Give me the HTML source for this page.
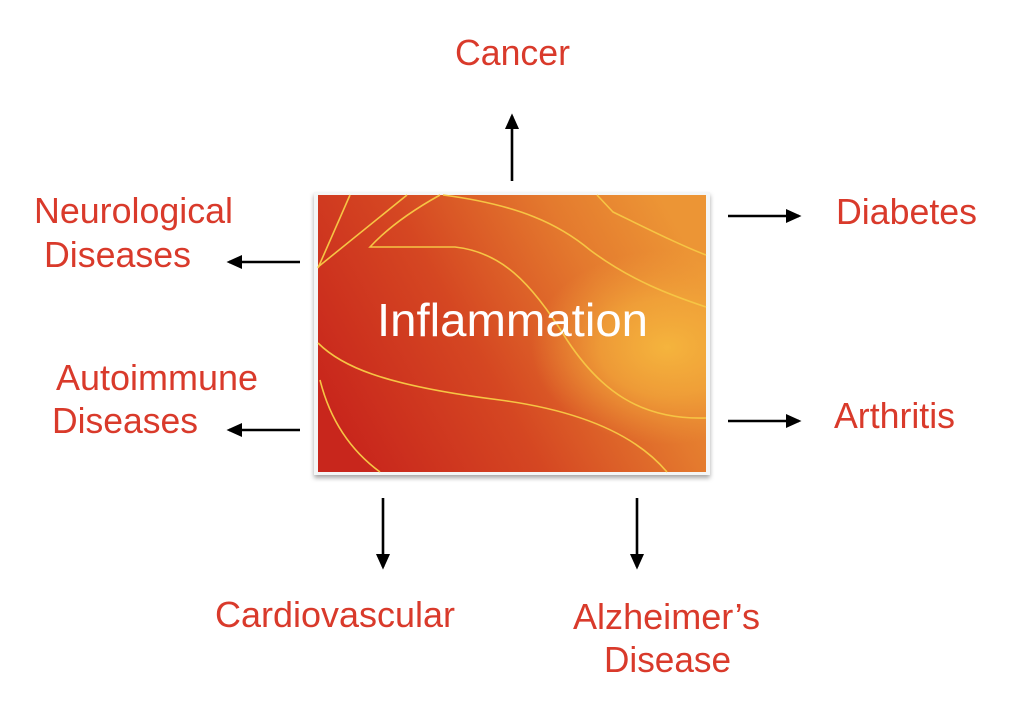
<!DOCTYPE html>
<html><head><meta charset="utf-8"><style>
html,body{margin:0;padding:0;background:#fff;}
svg{display:block;}
text{font-family:"Liberation Sans",Arial,sans-serif;}
.l{fill:#d93a2b;font-size:36px;}
</style></head><body>
<svg width="1024" height="726" viewBox="0 0 1024 726" xmlns="http://www.w3.org/2000/svg">
<defs>
<linearGradient id="g" x1="0" y1="0.7" x2="1" y2="0.3">
<stop offset="0" stop-color="#c8261c"/>
<stop offset="0.4" stop-color="#d54722"/>
<stop offset="0.75" stop-color="#e47a2e"/>
<stop offset="1" stop-color="#ec9535"/>
</linearGradient>
<radialGradient id="y" cx="0.9" cy="0.55" r="0.35">
<stop offset="0" stop-color="#f5b43d" stop-opacity="1"/>
<stop offset="0.5" stop-color="#f3ab3b" stop-opacity="0.7"/>
<stop offset="1" stop-color="#f0a03a" stop-opacity="0"/>
</radialGradient>
<filter id="s" x="-5%" y="-5%" width="110%" height="115%"><feDropShadow dx="0" dy="3" stdDeviation="2.5" flood-color="#000" flood-opacity="0.35"/></filter>
<marker id="a" markerWidth="6" markerHeight="6" refX="5" refY="3" orient="auto" markerUnits="strokeWidth"><path d="M0,0.3 L6,3 L0,5.7 z" fill="#000"/></marker>
</defs>
<rect x="314" y="192" width="396" height="283" fill="#f4f6f6" filter="url(#s)"/>
<rect x="318" y="195" width="388" height="277" fill="url(#g)"/>
<rect x="318" y="195" width="388" height="277" fill="url(#y)"/>
<g fill="none" stroke="#f6c544" stroke-width="1.6">
<path d="M318,268 L350,195"/>
<path d="M318,267 L407,195"/>
<path d="M440,195 Q395,220 370,247 L455,247 C500,252 530,280 567,340 C600,390 640,420 706,418"/>
<path d="M443,195 C520,205 560,225 590,250 C630,280 670,295 706,307"/>
<path d="M597,195 L613,212 C650,230 680,245 706,255"/>
<path d="M318,343 C340,365 380,385 500,400 C590,412 640,440 667,472"/>
<path d="M320,380 C330,420 350,450 380,472"/>
</g>
<text x="377" y="336" fill="#fff" font-size="46" textLength="271" lengthAdjust="spacingAndGlyphs">Inflammation</text>
<g stroke="#000" stroke-width="2.6" fill="none" marker-end="url(#a)">
<line x1="512" y1="181" x2="512" y2="116"/>
<line x1="728" y1="216" x2="799" y2="216"/>
<line x1="728" y1="421" x2="799" y2="421"/>
<line x1="300" y1="262" x2="229" y2="262"/>
<line x1="300" y1="430" x2="229" y2="430"/>
<line x1="383" y1="498" x2="383" y2="567"/>
<line x1="637" y1="498" x2="637" y2="567"/>
</g>
<g lengthAdjust="spacingAndGlyphs">
<text class="l" x="455" y="65" textLength="115" lengthAdjust="spacingAndGlyphs">Cancer</text>
<text class="l" x="34" y="223" textLength="199" lengthAdjust="spacingAndGlyphs">Neurological</text>
<text class="l" x="44" y="267" textLength="147" lengthAdjust="spacingAndGlyphs">Diseases</text>
<text class="l" x="56" y="390" textLength="202" lengthAdjust="spacingAndGlyphs">Autoimmune</text>
<text class="l" x="52" y="433" textLength="146" lengthAdjust="spacingAndGlyphs">Diseases</text>
<text class="l" x="836" y="224" textLength="141" lengthAdjust="spacingAndGlyphs">Diabetes</text>
<text class="l" x="834" y="428" textLength="121" lengthAdjust="spacingAndGlyphs">Arthritis</text>
<text class="l" x="215" y="627" textLength="240" lengthAdjust="spacingAndGlyphs">Cardiovascular</text>
<text class="l" x="573" y="629" textLength="187" lengthAdjust="spacingAndGlyphs">Alzheimer’s</text>
<text class="l" x="604" y="672" textLength="127" lengthAdjust="spacingAndGlyphs">Disease</text>
</g>
</svg>
</body></html>
